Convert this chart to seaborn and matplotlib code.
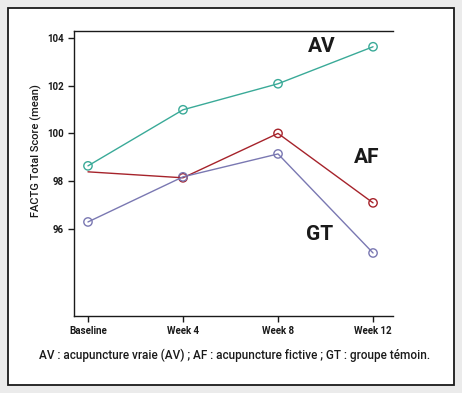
import numpy as np
import pandas as pd
import seaborn as sns
import matplotlib.pyplot as plt
from matplotlib.patches import Rectangle

weeks = ['Baseline', 'Week 4', 'Week 8', 'Week 12']
av = [98.64, 100.99, 102.08, 103.63]
af = [98.39, 98.14, 100.00, 97.09]
gt = [96.29, 98.18, 99.14, 94.99]
groups = ['AV', 'AF', 'GT']
colors = {'AV': '#3aaa98', 'AF': '#a6232b', 'GT': '#7a78b2'}

df = pd.DataFrame({
    'week': np.tile(np.arange(len(weeks)), 3),
    'score': av + af + gt,
    'group': np.repeat(groups, len(weeks)),
})
# AF has no marker at baseline in the original
marks = df[~((df['group'] == 'AF') & (df['week'] == 0))].reset_index(drop=True)

sns.set_style('white')
plt.rcParams['font.family'] = ['Roboto', 'DejaVu Sans']

fig = plt.figure(figsize=(4.62, 3.93), dpi=100, facecolor='#ebebeb')
box = Rectangle((8 / 462, 8 / 393), 446 / 462, 377 / 393,
                transform=fig.transFigure, facecolor='white',
                edgecolor='#1a1a1a', linewidth=1.3, zorder=-10)
fig.add_artist(box)

ax = fig.add_axes([74 / 462, 1 - 316 / 393, 319 / 462, 285 / 393])
ax.set_zorder(1)
ax.patch.set_alpha(0)

sns.lineplot(data=df, x='week', y='score', hue='group', palette=colors,
             linewidth=1.0, errorbar=None, legend=False, ax=ax)
sns.scatterplot(data=marks, x='week', y='score', hue='group', palette=colors,
                marker='o', s=36, linewidth=1.0, legend=False, ax=ax)
# hollow markers
pts = ax.collections[-1]
pts.set_facecolor('none')
pts.set_edgecolor([colors[g] for g in marks['group']])

for name, x, y in [('AV', 2.46, 103.62), ('AF', 2.93, 98.98), ('GT', 2.44, 95.75)]:
    ax.text(x, y, name, fontsize=15, fontweight='bold', ha='center',
            va='center', color='#1a1a1a')

ax.set_xlim(-0.147, 3.21)
ax.set_ylim(92.35, 104.29)
ax.set_xticks(range(len(weeks)))
ax.set_xticklabels(weeks)
ax.set_yticks([96, 98, 100, 102, 104])
ax.set_xlabel('')
ax.set_ylabel('FACTG Total Score (mean)', fontsize=8, fontweight='medium', color='#1a1a1a')
ax.yaxis.set_label_coords(-0.10, 0.58)

ax.tick_params(axis='both', direction='out', length=4, width=1, colors='#1a1a1a',
               labelsize=7, left=True, bottom=True)
for lab in ax.get_xticklabels() + ax.get_yticklabels():
    lab.set_fontweight('bold')

for side in ['left', 'top', 'bottom']:
    ax.spines[side].set_visible(True)
    ax.spines[side].set_color('#1a1a1a')
    ax.spines[side].set_linewidth(1.0)
ax.spines['right'].set_visible(False)

fig.text(235 / 462, 1 - 355 / 393,
         'AV : acupuncture vraie (AV) ; AF : acupuncture fictive ; GT : groupe témoin.',
         ha='center', va='center', fontsize=8.5, fontweight='medium', color='#1a1a1a')

fig.savefig('out.png', dpi=100, facecolor=fig.get_facecolor())
